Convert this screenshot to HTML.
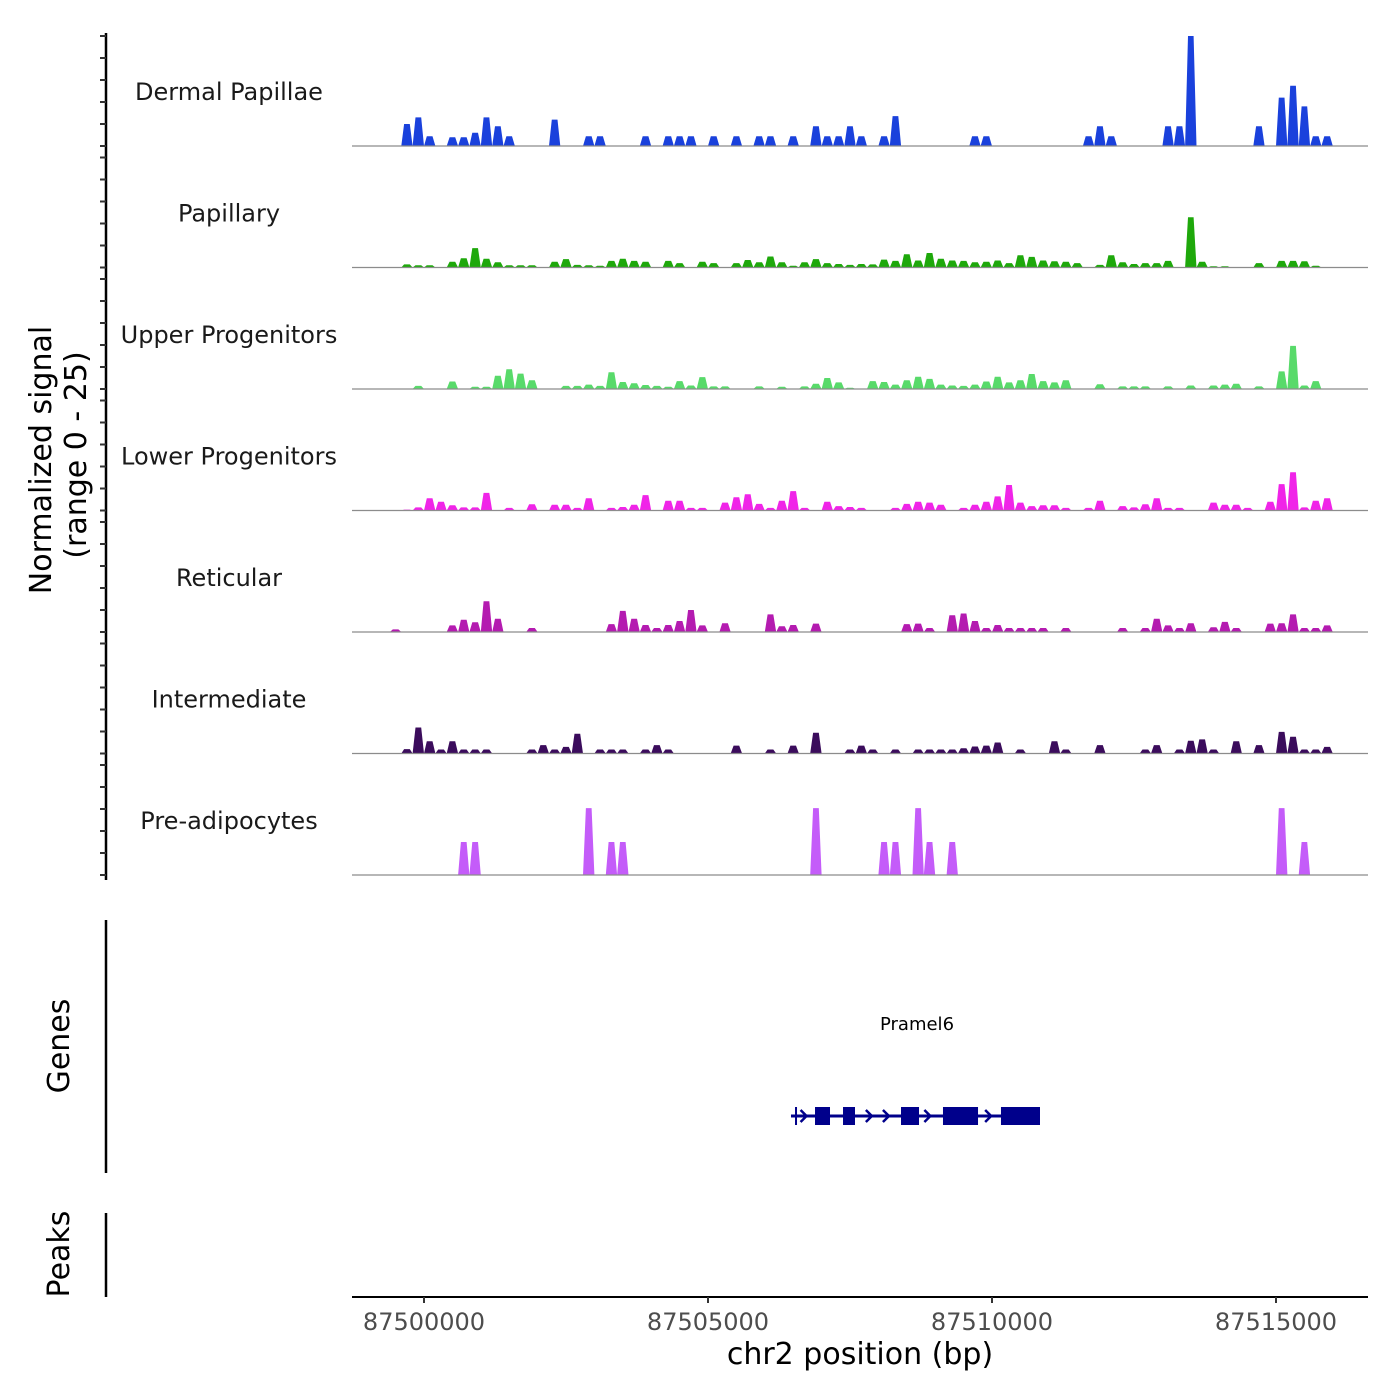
<!DOCTYPE html>
<html><head><meta charset="utf-8"><title>Coverage tracks</title>
<style>
html,body{margin:0;padding:0;background:#fff;}
svg{display:block;font-family:"DejaVu Sans","Liberation Sans",sans-serif;}
</style></head>
<body>
<svg id="chart" width="1400" height="1400" viewBox="0 0 1400 1400" xmlns="http://www.w3.org/2000/svg">
  <rect width="1400" height="1400" fill="#fff"/>
  <g id="tracks"></g>
  <g id="labels" font-size="24" fill="#1a1a1a" text-anchor="middle"></g>
  <line x1="106" y1="33" x2="106" y2="880" stroke="#000" stroke-width="2.5"/>
  <g id="yticks"></g>
  <text transform="translate(51,460) rotate(-90)" text-anchor="middle" font-size="30" fill="#000">Normalized signal</text>
  <text transform="translate(86,455) rotate(-90)" text-anchor="middle" font-size="30" fill="#000">(range 0 - 25)</text>

  <line x1="106" y1="920" x2="106" y2="1173" stroke="#000" stroke-width="2.5"/>
  <text transform="translate(69,1046) rotate(-90)" text-anchor="middle" font-size="30" fill="#000">Genes</text>
  <g id="gene"></g>
  <text x="917" y="1030" text-anchor="middle" font-size="18" fill="#000">Pramel6</text>

  <line x1="106" y1="1213" x2="106" y2="1297" stroke="#000" stroke-width="2.5"/>
  <text transform="translate(69,1254) rotate(-90)" text-anchor="middle" font-size="30" fill="#000">Peaks</text>

  <line x1="352" y1="1297" x2="1368" y2="1297" stroke="#000" stroke-width="2"/>
  <g id="xticks"></g>
  <text x="860" y="1364" text-anchor="middle" font-size="30" fill="#000">chr2 position (bp)</text>
</svg>
<script>
const trackNames = ["Dermal Papillae","Papillary","Upper Progenitors","Lower Progenitors","Reticular","Intermediate","Pre-adipocytes"];
const trackColors = ["#1a41dc","#1ea80b","#58da6a","#f024e8","#b41bb0","#3b0c5c","#c45cf9"];
const binStart = 87499400;
const binSize = 200;
const dermal = [
0,5,6.5,2.2,0,2,2,3,6.5,4.5,
2.2,0,0,0,6,0,0,2.2,2.2,0,
0,0,2.2,0,2.2,2.2,2.2,0,2.2,0,
2.2,0,2.2,2.2,0,2.2,0,4.5,2.2,2.2,
4.5,2.2,0,2.2,6.8,0,0,0,0,0,
0,2.2,2.2,0,0,0,0,0,0,0,
0,2.2,4.5,2.2,0,0,0,0,4.5,4.5,
25,0,0,0,0,0,4.5,0,11,13.7,
9,2.2,2.2];
const papillary = [
0,0.7,0.5,0.5,0,1.3,2.1,4.4,2,1.2,
0.5,0.5,0.5,0,1.3,1.9,0.6,0.5,0.4,1.5,
2,1.5,1.3,0,1.5,1,0,1.3,1,0,
1,1.7,1.2,2.5,1.2,0.4,1.2,1.9,1,0.8,
0.6,0.8,0.7,1.8,1.5,3,1.6,3.3,2,1.6,
1.5,1.2,1.3,1.6,1,2.8,2.4,1.6,1.4,1.3,
1,0,0.6,2.8,1.2,0.8,1,1,1.5,0,
11.4,1.3,0.3,0.3,0,0,1,0,1.5,1.5,
1.4,0.4,0];
const upperProg = [
0,0,0.7,0,0,1.7,0,0.5,0.5,3,
4.5,3.5,2,0,0,0.7,0.7,1,0.7,3.8,
1.6,1.3,0.9,0.7,0.5,1.8,0.8,2.7,0.6,0.6,
0,0,0.6,0,0.5,0,0.6,1.2,2.5,1.5,
0.3,0,1.8,1.6,1,2,2.8,2.3,1,0.8,
0.7,1,1.7,2.8,1.5,2,3.4,1.8,1.5,2,
0,0,1.1,0,0.6,0.6,0.6,0,0.6,0,
0.8,0,0.8,1,1.2,0,0.6,0,4,9.8,
0.8,1.8,0];
const lowerProg = [
0,0.2,0.7,2.8,2,1.2,0.7,0.7,4,0,
0.6,0,1.4,0,1.3,1.3,0.6,2.8,0,0.6,
0.8,1.3,3.5,0,2.2,2.2,0.6,0.6,0,1.8,
3,3.7,1.5,0.6,2.2,4.4,0.6,0,2,1,
0.8,0.6,0,0,0.6,1.5,2,1.8,1.3,0,
0.6,1.3,2,3.2,5.8,1.8,1,1.2,1.2,0.6,
0,0.6,2.2,0,1,0.7,1.4,2.8,0.6,0.6,
0,0,1.8,1.3,1.3,0.6,0,2,6,8.7,
0.7,2.2,2.8];
const reticular = [
0.6,0,0,0,0,1.5,2.8,2.2,7,3,
0,0,0.9,0,0,0,0,0,0,1.8,
4.8,3,1.6,0.9,1.6,2.5,5,1.5,0,2,
0,0,0,4,1.3,1.6,0,1.9,0,0,
0,0,0,0,0,1.8,1.9,0.9,0,3.8,
4.2,2.5,0.9,1.6,0.9,0.9,0.9,0.9,0,0.9,
0,0,0,0,0.9,0,0.9,3,1.5,0.9,
2,0,1.1,2.3,0.9,0,0,1.9,2,4,
0.9,0.9,1.5];
const intermediate = [
0,1,5.9,2.8,0.9,2.8,0.9,0.9,0.9,0,
0,0,0.9,1.9,0.9,1.5,4.5,0,0.9,0.9,
0.9,0,0.9,1.9,0.9,0,0,0,0,0,
1.8,0,0,0.9,0,1.8,0,4.7,0,0,
0.9,1.8,0.9,0,0.9,0,0.9,0.9,0.9,0.9,
1.2,1.6,1.8,2.5,0,0.9,0,0,2.8,0.9,
0,0,1.9,0,0,0,0.9,1.9,0,0.9,
2.9,3.2,0.9,0,2.8,0,1.9,0,4.9,3.8,
0.9,0.9,1.5];
const preAdipo = [
0,0,0,0,0,0,7.5,7.5,0,0,
0,0,0,0,0,0,0,15.2,0,7.5,
7.5,0,0,0,0,0,0,0,0,0,
0,0,0,0,0,0,0,15.2,0,0,
0,0,0,7.5,7.5,0,15.2,7.5,0,7.5,
0,0,0,0,0,0,0,0,0,0,
0,0,0,0,0,0,0,0,0,0,
0,0,0,0,0,0,0,0,15.2,0,
7.5,0,0];
const seriesList = [dermal,papillary,upperProg,lowerProg,reticular,intermediate,preAdipo];
const xTickValues = [87500000,87505000,87510000,87515000];
const geneStart = 87506461, geneEnd = 87510845;
const exonStarts = [87506532,87506884,87507377,87508398,87509137,87510158];
const exonEnds   = [87506566,87507148,87507588,87508715,87509754,87510845];
const arrowPositions = [87506700,87507850,87508150,87508880,87509950];

const NS = "http://www.w3.org/2000/svg";
const X = bp => 424 + (bp - 87500000) * 0.0568;
const baseY = k => 146 + k * 121.5;
const Y = (k, v) => baseY(k) - v * 4.4;
function mk(tag, attrs, parent){ const e=document.createElementNS(NS,tag); for(const a in attrs) e.setAttribute(a,attrs[a]); parent.appendChild(e); return e; }

const tracks = document.getElementById('tracks');
const labels = document.getElementById('labels');
const yticks = document.getElementById('yticks');
seriesList.forEach((vals, k) => {
  const B = baseY(k);
  let d = "";
  vals.forEach((v, i) => {
    if (v <= 0) return;
    const x0 = X(binStart + i*binSize), x1 = X(binStart + (i+1)*binSize), w = x1 - x0;
    const t = Y(k, v);
    d += `M${(x0).toFixed(1)},${B} L${(x0+w*0.25).toFixed(1)},${t.toFixed(1)} L${(x0+w*0.75).toFixed(1)},${t.toFixed(1)} L${(x1).toFixed(1)},${B} Z `;
  });
  const p = mk('path', {d: d, fill: trackColors[k]}, tracks);
  
  
  const bl = mk('line', {x1:352, x2:1368, y1:B, y2:B, stroke:'#8c8c8c', 'stroke-width':1.2}, tracks);
  
  
  const lb = mk('text', {x:229, y:(B - 46).toFixed(1)}, labels);
  lb.textContent = trackNames[k];
  
  
  for (let j = 0; j <= 5; j++) {
    const ty = Y(k, j*5);
    const tk = mk('line', {x1:100, x2:106, y1:ty, y2:ty, stroke:'#333', 'stroke-width':2}, yticks);
    
    
  }
});

const xt = document.getElementById('xticks');
xTickValues.forEach(v => {
  const x = X(v);
  const l = mk('line', {x1:x, x2:x, y1:1297, y2:1303, stroke:'#333', 'stroke-width':2}, xt);
  
  
  const t = mk('text', {x:x, y:1330, 'text-anchor':'middle', 'font-size':24, fill:'#4d4d4d'}, xt);
  t.textContent = String(v);
  
  
});

const gene = document.getElementById('gene');
const gl = mk('line', {x1:X(geneStart), x2:X(geneEnd), y1:1116, y2:1116, stroke:'#00008b', 'stroke-width':3}, gene);


exonStarts.forEach((s, i) => {
  const x0 = X(s), x1 = X(exonEnds[i]);
  const h = 18;
  const r = mk('rect', {x:x0, y:1116 - h/2, width:Math.max(2, x1-x0), height:h, fill:'#00008b'}, gene);
  
  
});
arrowPositions.forEach(p => {
  const x = X(p);
  const a = mk('path', {d:`M${x-4},1110 L${x+2},1116 L${x-4},1122`, fill:'none', stroke:'#00008b', 'stroke-width':2.5}, gene);
  
  
});
</script>
</body></html>
